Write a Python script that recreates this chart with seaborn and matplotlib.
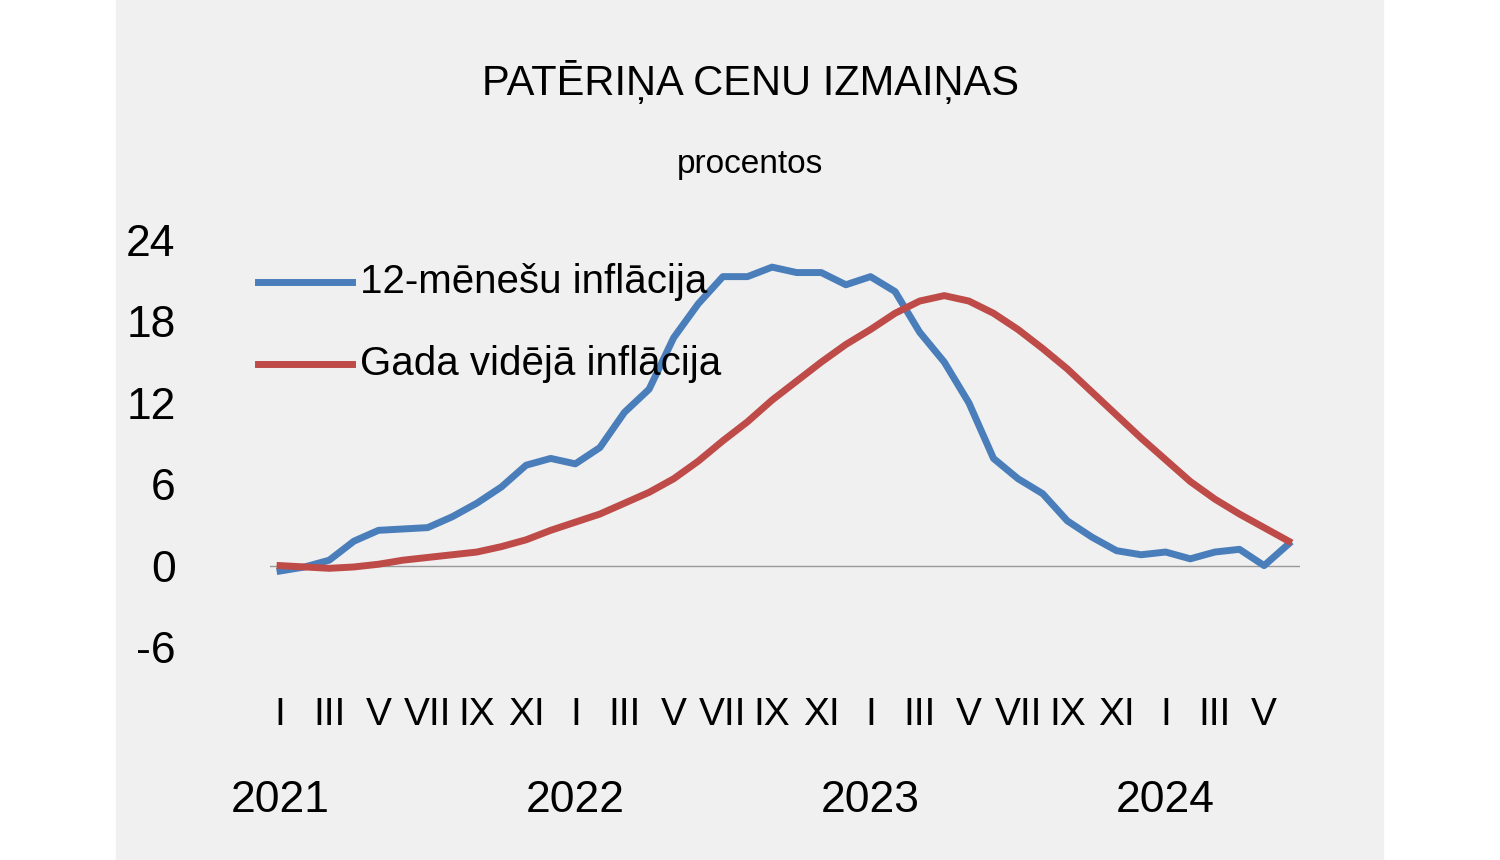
import matplotlib
matplotlib.use("Agg")
import matplotlib.pyplot as plt
import seaborn as sns
import pandas as pd
from matplotlib.patches import Rectangle

matplotlib.rcParams["font.family"] = "Liberation Sans"

months = list(range(42))
inflation_12m = [-0.4, -0.1, 0.4, 1.8, 2.6, 2.7, 2.8, 3.6, 4.6, 5.8, 7.4, 7.9,
                 7.5, 8.7, 11.3, 13.0, 16.8, 19.3, 21.3, 21.3, 22.0, 21.6, 21.6, 20.7,
                 21.3, 20.2, 17.2, 15.0, 12.0, 7.9, 6.4, 5.3, 3.3, 2.1, 1.1, 0.8,
                 1.0, 0.5, 1.0, 1.2, 0.0, 1.6]
inflation_avg = [0.0, -0.1, -0.2, -0.1, 0.1, 0.4, 0.6, 0.8, 1.0, 1.4, 1.9, 2.6,
                 3.2, 3.8, 4.6, 5.4, 6.4, 7.7, 9.2, 10.6, 12.2, 13.6, 15.0, 16.3,
                 17.4, 18.6, 19.5, 19.9, 19.5, 18.6, 17.4, 16.0, 14.5, 12.8, 11.1, 9.4,
                 7.8, 6.2, 4.9, 3.8, 2.8, 1.8]
roman = ["I", "III", "V", "VII", "IX", "XI"]
years = ["2021", "2022", "2023", "2024"]
yticks = [-6, 0, 6, 12, 18, 24]

df = pd.DataFrame({"m": months * 2,
                   "v": inflation_12m + inflation_avg,
                   "s": ["12-mēnešu inflācija"] * 42 + ["Gada vidējā inflācija"] * 42})

fig = plt.figure(figsize=(15, 8.6), dpi=100)
fig.patches.append(Rectangle((116 / 1500, 0), (1383 - 116) / 1500, 1, transform=fig.transFigure,
                             color="#f0f0f0", zorder=-10))
ax = fig.add_axes([270 / 1500, 1 - 647 / 860, 1030 / 1500, (647 - 240) / 860])
ax.set_facecolor("none")
ax.axhline(0, color="#999999", lw=1, zorder=1)
sns.lineplot(data=df, x="m", y="v", hue="s", palette=["#4a7ebb", "#be4b48"], lw=5, ax=ax, legend=False)
ax.set_xlim(-0.41, 41.46)
ax.set_ylim(-6, 24)
ax.set_yticks(yticks)
ax.set_yticklabels([str(t) for t in yticks], fontsize=32)
ax.tick_params(axis="y", length=0, pad=68)
ax.set_xticks([])
ax.set_xlabel("")
ax.set_ylabel("")
for s in ax.spines.values():
    s.set_visible(False)

trans = ax.get_xaxis_transform()
for i in range(0, 42, 2):
    ax.text(i, -0.167, roman[(i % 12) // 2], transform=trans, ha="center", va="center", fontsize=28)
for k, y in enumerate(years):
    ax.text(12 * k, -0.376, y, transform=trans, ha="center", va="center", fontsize=32)

# legend
for j, (lab, c) in enumerate([("12-mēnešu inflācija", "#4a7ebb"), ("Gada vidējā inflācija", "#be4b48")]):
    yf = 1 - (282 + 82 * j) / 860
    fig.add_artist(plt.Line2D([258 / 1500, 352 / 1500], [yf, yf], color=c, lw=5, transform=fig.transFigure))
    fig.text(360 / 1500, yf, lab, fontsize=29, va="center", ha="left")

fig.text(750 / 1500, 1 - 82 / 860, "PATĒRIŅA CENU IZMAIŅAS", fontsize=30, ha="center", va="center")
fig.text(750 / 1500, 1 - 165 / 860, "procentos", fontsize=24, ha="center", va="center")

fig.savefig("out.png", dpi=100, facecolor="white")
